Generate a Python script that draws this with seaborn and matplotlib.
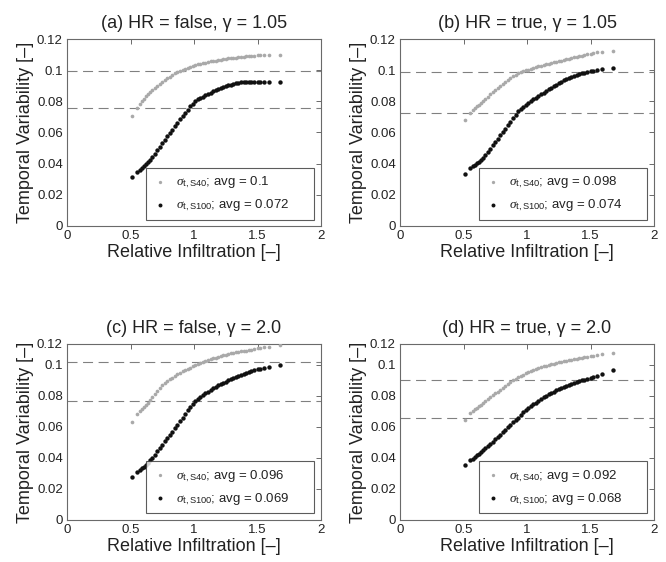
import matplotlib
matplotlib.use('Agg')
import matplotlib.pyplot as plt
import seaborn as sns

# ---------------- data ----------------
X = [0.51, 0.555, 0.575, 0.59, 0.605, 0.62, 0.635, 0.65,
     0.67, 0.69, 0.71, 0.73, 0.75, 0.77, 0.79, 0.81, 0.83, 0.85, 0.87, 0.89,
     0.91, 0.93, 0.95, 0.97, 0.99, 1.01, 1.03, 1.05, 1.07, 1.09, 1.11, 1.13,
     1.15, 1.17, 1.19, 1.21, 1.23, 1.25, 1.27, 1.29, 1.31, 1.33, 1.35, 1.37, 1.39,
     1.41, 1.43, 1.45, 1.47, 1.50, 1.52, 1.55, 1.59, 1.68]

A_S40 = [0.0705, 0.0757, 0.0780, 0.0800, 0.0818, 0.0834, 0.0848, 0.0860,
         0.0873, 0.0887, 0.0900, 0.0913, 0.0925, 0.0937, 0.0948, 0.0959, 0.0969, 0.0979, 0.0988, 0.0996,
         0.1003, 0.1010, 0.1016, 0.1022, 0.1027, 0.1032, 0.1037, 0.1041, 0.1045, 0.1049, 0.1053, 0.1056,
         0.1059, 0.1062, 0.1065, 0.1068, 0.1071, 0.1073, 0.1075, 0.1077, 0.1079, 0.1081, 0.1083, 0.1085, 0.1087,
         0.1089, 0.1091, 0.1092, 0.1093, 0.1095, 0.1096, 0.1097, 0.1098, 0.1100]
A_S100 = [0.0312, 0.0348, 0.0362, 0.0374, 0.0385, 0.0396, 0.0410, 0.0424,
          0.0444, 0.0465, 0.0487, 0.0509, 0.0531, 0.0553, 0.0575, 0.0597, 0.0619, 0.0641, 0.0663, 0.0685,
          0.0706, 0.0727, 0.0747, 0.0767, 0.0785, 0.0800, 0.0812, 0.0822, 0.0831, 0.0840, 0.0848, 0.0856,
          0.0864, 0.0871, 0.0878, 0.0885, 0.0891, 0.0897, 0.0903, 0.0908, 0.0913, 0.0917, 0.0920, 0.0922, 0.0924,
          0.0925, 0.0926, 0.0926, 0.0926, 0.0926, 0.0926, 0.0926, 0.0926, 0.0922]

B_S40 = [0.0682, 0.0722, 0.0742, 0.0756, 0.0767, 0.0778, 0.0789, 0.0800,
         0.0815, 0.0830, 0.0845, 0.0860, 0.0874, 0.0888, 0.0901, 0.0914, 0.0926, 0.0938, 0.0950, 0.0962,
         0.0972, 0.0980, 0.0987, 0.0993, 0.0999, 0.1004, 0.1009, 0.1014, 0.1019, 0.1024, 0.1029, 0.1033,
         0.1038, 0.1042, 0.1046, 0.1050, 0.1054, 0.1058, 0.1062, 0.1066, 0.1070, 0.1074, 0.1078, 0.1082, 0.1085,
         0.1089, 0.1093, 0.1097, 0.1102, 0.1106, 0.1110, 0.1114, 0.1118, 0.1125]
B_S100 = [0.0335, 0.0370, 0.0382, 0.0392, 0.0402, 0.0413, 0.0425, 0.0438,
          0.0456, 0.0476, 0.0497, 0.0518, 0.0539, 0.0560, 0.0581, 0.0602, 0.0623, 0.0645, 0.0667, 0.0690,
          0.0715, 0.0737, 0.0752, 0.0765, 0.0778, 0.0790, 0.0801, 0.0812, 0.0823, 0.0834, 0.0845, 0.0856,
          0.0866, 0.0876, 0.0886, 0.0898, 0.0908, 0.0917, 0.0926, 0.0934, 0.0942, 0.0950, 0.0957, 0.0963, 0.0969,
          0.0974, 0.0979, 0.0983, 0.0987, 0.0992, 0.0996, 0.1000, 0.1006, 0.1016]

C_S40 = [0.0630, 0.0682, 0.0700, 0.0714, 0.0728, 0.0742, 0.0757, 0.0772,
         0.0793, 0.0814, 0.0834, 0.0852, 0.0868, 0.0882, 0.0895, 0.0907, 0.0918, 0.0929, 0.0939, 0.0949,
         0.0958, 0.0967, 0.0975, 0.0983, 0.0991, 0.0998, 0.1005, 0.1012, 0.1019, 0.1025, 0.1031, 0.1037,
         0.1042, 0.1047, 0.1052, 0.1057, 0.1062, 0.1066, 0.1070, 0.1074, 0.1078, 0.1081, 0.1084, 0.1087, 0.1090,
         0.1093, 0.1096, 0.1099, 0.1102, 0.1106, 0.1109, 0.1113, 0.1117, 0.1127]
C_S100 = [0.0277, 0.0307, 0.0322, 0.0334, 0.0345, 0.0356, 0.0370, 0.0385,
          0.0403, 0.0422, 0.0442, 0.0464, 0.0486, 0.0507, 0.0528, 0.0549, 0.0570, 0.0591, 0.0613, 0.0636,
          0.0660, 0.0684, 0.0707, 0.0728, 0.0747, 0.0765, 0.0780, 0.0793, 0.0805, 0.0816, 0.0827, 0.0838,
          0.0849, 0.0859, 0.0868, 0.0877, 0.0885, 0.0893, 0.0901, 0.0909, 0.0916, 0.0923, 0.0930, 0.0937, 0.0943,
          0.0949, 0.0955, 0.0960, 0.0966, 0.0972, 0.0976, 0.0981, 0.0987, 0.1002]

D_S40 = [0.0647, 0.0690, 0.0703, 0.0714, 0.0724, 0.0734, 0.0744, 0.0754,
         0.0767, 0.0780, 0.0792, 0.0804, 0.0816, 0.0828, 0.0840, 0.0852, 0.0864, 0.0876, 0.0890, 0.0902,
         0.0912, 0.0921, 0.0930, 0.0938, 0.0946, 0.0953, 0.0960, 0.0967, 0.0973, 0.0979, 0.0985, 0.0990,
         0.0995, 0.1000, 0.1005, 0.1009, 0.1013, 0.1017, 0.1021, 0.1025, 0.1028, 0.1031, 0.1034, 0.1037, 0.1040,
         0.1043, 0.1046, 0.1049, 0.1052, 0.1056, 0.1059, 0.1063, 0.1068, 0.1080]
D_S100 = [0.0355, 0.0386, 0.0396, 0.0406, 0.0416, 0.0427, 0.0438, 0.0449,
          0.0463, 0.0477, 0.0491, 0.0506, 0.0521, 0.0536, 0.0551, 0.0566, 0.0582, 0.0598, 0.0614, 0.0630,
          0.0646, 0.0661, 0.0676, 0.0694, 0.0707, 0.0720, 0.0733, 0.0745, 0.0757, 0.0768, 0.0779, 0.0790,
          0.0800, 0.0810, 0.0819, 0.0828, 0.0837, 0.0845, 0.0853, 0.0860, 0.0867, 0.0873, 0.0879, 0.0885, 0.0890,
          0.0895, 0.0900, 0.0905, 0.0910, 0.0916, 0.0922, 0.0930, 0.0942, 0.0966]

titles = ['(a) HR = false, γ = 1.05', '(b) HR = true, γ = 1.05',
          '(c) HR = false, γ = 2.0', '(d) HR = true, γ = 2.0']
avg_S40 = ['0.1', '0.098', '0.096', '0.092']
avg_S100 = ['0.072', '0.074', '0.069', '0.068']
ref_hi = [0.0995, 0.0986, 0.1021, 0.0904]
ref_lo = [0.0760, 0.0725, 0.0770, 0.0655]
series_S40 = [A_S40, B_S40, C_S40, D_S40]
series_S100 = [A_S100, B_S100, C_S100, D_S100]

x_ticks = [0, 0.5, 1, 1.5, 2]
x_ticklabels = ['0', '0.5', '1', '1.5', '2']
y_ticks = [0, 0.02, 0.04, 0.06, 0.08, 0.1, 0.12]
y_ticklabels = ['0', '0.02', '0.04', '0.06', '0.08', '0.1', '0.12']

# ---------------- style ----------------
sns.set_style('white')
plt.rcParams['font.family'] = ['Liberation Sans', 'DejaVu Sans']
plt.rcParams['mathtext.fontset'] = 'custom'
plt.rcParams['mathtext.rm'] = 'Liberation Sans'
plt.rcParams['mathtext.it'] = 'Liberation Serif:italic'

GRAY = '#a9a9a9'
BLACK = '#111111'
FRAME = '#6a6a6a'

W, H = 666, 562
fig = plt.figure(figsize=(W / 100, H / 100), dpi=100)


def rect(l, t, r, b):
    return [l / W, 1 - b / H, (r - l) / W, (b - t) / H]


positions = [rect(67, 39, 321, 226), rect(400, 39, 654, 226),
             rect(67, 344, 321, 520), rect(400, 344, 654, 520)]

for i in range(4):
    ax = fig.add_axes(positions[i])
    top_row = i < 2
    ax.axhline(ref_hi[i], color='#808080', lw=0.8, ls=(0, (9, 5)), zorder=1)
    ax.axhline(ref_lo[i], color='#808080', lw=0.8, ls=(0, (9, 5)), zorder=1)
    sns.scatterplot(x=X, y=series_S40[i], ax=ax, color=GRAY, s=7, linewidth=0,
                    label=r'$\sigma_{\rm t,S40}$; avg = ' + avg_S40[i], zorder=3)
    sns.scatterplot(x=X, y=series_S100[i], ax=ax, color=BLACK, s=10, linewidth=0,
                    label=r'$\sigma_{\rm t,S100}$; avg = ' + avg_S100[i], zorder=3)
    ax.set_xlim(0, 2)
    if top_row:
        ax.set_ylim(0, 0.12)
        ax.set_yticks(y_ticks)
        ax.set_yticklabels(y_ticklabels)
    else:
        ytop = 0.1135
        ax.set_ylim(0, ytop)
        ax.set_yticks(y_ticks[:-1] + [ytop])
        ax.set_yticklabels(y_ticklabels)
    ax.set_xticks(x_ticks)
    ax.set_xticklabels(x_ticklabels)
    ax.tick_params(direction='in', length=3.5, width=0.7, color=FRAME,
                   top=True, right=True, labelsize=9.5, pad=3, labelcolor='#222222')
    for sp in ax.spines.values():
        sp.set_color(FRAME)
        sp.set_linewidth(0.8)
    ax.set_xlabel('Relative Infiltration [–]', fontsize=13, labelpad=1, color='#222222')
    ax.set_ylabel('Temporal Variability [–]', fontsize=13, labelpad=2, color='#222222')
    ax.set_title(titles[i], fontsize=13, pad=8, color='#222222')
    leg_bottom = 0.032 if top_row else 0.038
    leg = ax.legend(loc='lower left', bbox_to_anchor=(0.31, leg_bottom, 0.662, 0.28),
                    mode='expand', borderaxespad=0, fontsize=9.5, frameon=True,
                    fancybox=False, handlelength=1.2, handletextpad=0.6,
                    labelspacing=0.55, borderpad=0.5, markerscale=0.9)
    leg.get_frame().set_edgecolor('#333333')
    leg.get_frame().set_linewidth(0.8)
    for t in leg.get_texts():
        t.set_color('#222222')

fig.savefig('out.png', dpi=100)
